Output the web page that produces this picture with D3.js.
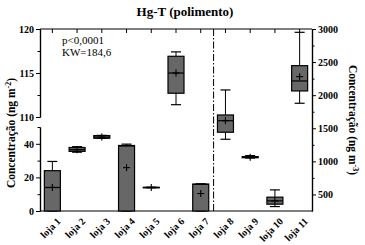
<!DOCTYPE html>
<html><head><meta charset="utf-8">
<script src="https://cdn.jsdelivr.net/npm/d3@7"></script>
<style>body{margin:0;background:#fff}svg{display:block}
svg text{font-family:"Liberation Serif","Times New Roman","DejaVu Serif",serif;}</style>
</head><body>
<svg id="c" width="365" height="245"></svg>
<script>
const categories = ["loja 1","loja 2","loja 3","loja 4","loja 5","loja 6","loja 7","loja 8","loja 9","loja 10","loja 11"];
// side: 0 = left axis (ng m-2), 1 = right axis (ng m-3)
const side   = [0,0,0,0,0,0,0,1,1,1,1];
const minV   = [0,   35.0, 43.2, 0,    13.8, 111.4, 0,    1334, 1050, 317, 1878];
const q1V    = [0,   35.5, 43.3, 0,    13.9, 112.7, 0,    1440, 1055, 353, 2064];
const medV   = [14,  36.5, 44.0, 38.7, 14.0, 115.0, 15.9, 1615, 1063, 403, 2215];
const q3V    = [24,  37.8, 44.9, 39.0, 14.1, 116.9, 16.0, 1701, 1072, 459, 2446];
const maxV   = [29.5,38.3, 45.0, 39.8, 14.2, 117.4, 16.2, 2079, 1087, 569, 2950];
const meanV  = [14,  36.5, 44.0, 25.8, 14.0, 115.0, 10.4, 1615, 1063, 403, 2280];
const leftLowTicks = [0,20,40];
const leftLowMinor = [10,30,50];
const leftHighTicks = [110,115,120];
const leftHighMinor = [112.5,117.5];
const rightTicks = [500,1000,1500,2000,2500,3000];
const rightMinor = [750,1250,1750,2250,2750];

const svg = d3.select("#c");
const L=40,R=312,T=29,B=211;
const x = d3.scaleBand(categories,[L,R]).padding(0);
const yLow = d3.scaleLinear([0,50],[B,127]);
const yHigh = d3.scaleLinear([110,120],[117,T]);
const yRight = d3.scaleLinear([250,3000],[B,T]);
const fill = "#676767";

function Y(i,v){
  if(side[i]===1) return yRight(v);
  return v>=100 ? yHigh(v) : yLow(v);
}

// frame lines
svg.append("line").attr("x1",L).attr("x2",R).attr("y1",T).attr("y2",T).attr("stroke","#000").attr("stroke-width",1.2);
svg.append("line").attr("x1",L).attr("x2",R).attr("y1",B).attr("y2",B).attr("stroke","#000").attr("stroke-width",1.2);
// top category ticks (inward)
svg.append("g").selectAll("line").data(categories).join("line")
  .attr("x1",d=>x(d)+x.bandwidth()/2).attr("x2",d=>x(d)+x.bandwidth()/2)
  .attr("y1",T).attr("y2",T+4).attr("stroke","#000").attr("stroke-width",1);

// left axis segments
const gHigh = svg.append("g").attr("transform",`translate(${L},0)`)
  .call(d3.axisLeft(yHigh).tickValues(leftHighTicks).tickSize(4).tickSizeOuter(0));
const gLow = svg.append("g").attr("transform",`translate(${L},0)`)
  .call(d3.axisLeft(yLow).tickValues(leftLowTicks).tickSize(4).tickSizeOuter(0));
const gHighM = svg.append("g").attr("transform",`translate(${L},0)`)
  .call(d3.axisLeft(yHigh).tickValues(leftHighMinor).tickSize(2.5).tickFormat("").tickSizeOuter(0));
const gLowM = svg.append("g").attr("transform",`translate(${L},0)`)
  .call(d3.axisLeft(yLow).tickValues(leftLowMinor).tickSize(2.5).tickFormat("").tickSizeOuter(0));
const gR = svg.append("g").attr("transform",`translate(${R},0)`)
  .call(d3.axisRight(yRight).tickValues(rightTicks).tickSize(4).tickFormat(d3.format("d")).tickSizeOuter(0));
const gRM = svg.append("g").attr("transform",`translate(${R},0)`)
  .call(d3.axisRight(yRight).tickValues(rightMinor).tickSize(2.5).tickFormat("").tickSizeOuter(0));
[gHigh,gLow,gHighM,gLowM,gR,gRM].forEach(g=>{
  g.attr("font-family",null);
  g.selectAll(".domain").attr("stroke","#000").attr("stroke-width",1.2);
  g.selectAll(".tick line").attr("stroke","#000").attr("stroke-width",1);
  g.selectAll("text").attr("font-weight","bold").attr("font-size",10).attr("fill","#000");
});
gHigh.selectAll("text").attr("x",-6);
gLow.selectAll("text").attr("x",-6);
gR.selectAll("text").attr("x",6);

// separator dash-dot line
const sx = (x("loja 7")+x.bandwidth()+x("loja 8"))/2+0.5;
svg.append("line").attr("x1",sx).attr("x2",sx)
  .attr("y1",T).attr("y2",B).attr("stroke","#000").attr("stroke-width",1)
  .attr("stroke-dasharray","7,2,1.5,2");

// boxes
const bw = 16, cw = 10, pw = 3.5;
const g = svg.append("g");
categories.forEach((c,i)=>{
  const cx = x(c)+x.bandwidth()/2;
  const gi = g.append("g");
  gi.append("line").attr("x1",cx).attr("x2",cx).attr("y1",Y(i,maxV[i])).attr("y2",Y(i,q3V[i])).attr("stroke","#000").attr("stroke-width",1);
  gi.append("line").attr("x1",cx).attr("x2",cx).attr("y1",Y(i,minV[i])).attr("y2",Y(i,q1V[i])).attr("stroke","#000").attr("stroke-width",1);
  gi.append("line").attr("x1",cx-cw/2).attr("x2",cx+cw/2).attr("y1",Y(i,maxV[i])).attr("y2",Y(i,maxV[i])).attr("stroke","#000").attr("stroke-width",1.2);
  gi.append("line").attr("x1",cx-cw/2).attr("x2",cx+cw/2).attr("y1",Y(i,minV[i])).attr("y2",Y(i,minV[i])).attr("stroke","#000").attr("stroke-width",1.2);
  const yt = Y(i,q3V[i]), yb = Y(i,q1V[i]);
  gi.append("rect").attr("x",cx-bw/2).attr("y",yt).attr("width",bw).attr("height",Math.max(0.5,yb-yt))
    .attr("fill",fill).attr("stroke","#000").attr("stroke-width",1.2);
  gi.append("line").attr("x1",cx-bw/2).attr("x2",cx+bw/2).attr("y1",Y(i,medV[i])).attr("y2",Y(i,medV[i])).attr("stroke","#000").attr("stroke-width",1.2);
  const my = Y(i,meanV[i]);
  gi.append("line").attr("x1",cx-pw).attr("x2",cx+pw).attr("y1",my).attr("y2",my).attr("stroke","#000").attr("stroke-width",1.1);
  gi.append("line").attr("x1",cx).attr("x2",cx).attr("y1",my-pw).attr("y2",my+pw).attr("stroke","#000").attr("stroke-width",1.1);
});

// x labels
svg.append("g").selectAll("text").data(categories).join("text")
  .attr("transform",d=>`translate(${x(d)+x.bandwidth()/2+4},${B+6}) rotate(-45)`)
  .attr("text-anchor","end").attr("dy","0.7em")
  .attr("font-weight","bold").attr("font-size",10).text(d=>d);

// title
svg.append("text").attr("x",185).attr("y",16).attr("text-anchor","middle")
  .attr("font-weight","bold").attr("font-size",13).text("Hg-T (polimento)");

// stats
svg.append("text").attr("x",62).attr("y",44).attr("font-size",11).text("p<0,0001");
svg.append("text").attr("x",62).attr("y",56).attr("font-size",11).text("KW=184,6");

// axis titles
function axTitle(xp,yp,rot,exp){
  const t = svg.append("text").attr("transform",`translate(${xp},${yp}) rotate(${rot})`)
    .attr("text-anchor","middle").attr("font-weight","bold").attr("font-size",11.5);
  t.append("tspan").text("Concentração (ng m");
  t.append("tspan").attr("font-size",8).attr("dy",-4).text(exp);
  t.append("tspan").attr("dy",4).text(")");
}
axTitle(15,133,-90,"-2");
axTitle(349,120,90,"-3");
</script>
</body></html>
